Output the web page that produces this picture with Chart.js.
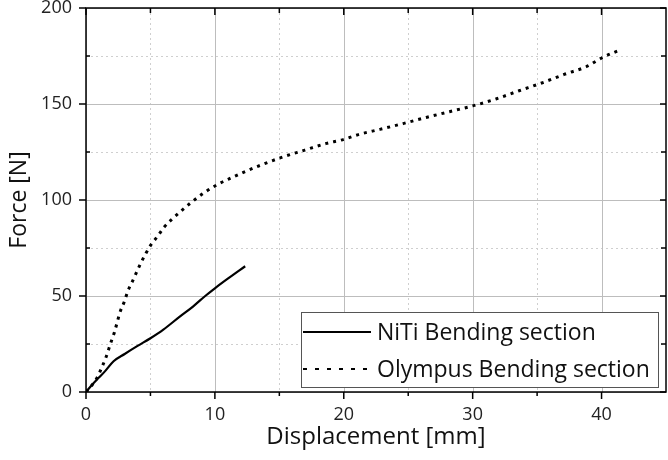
<!DOCTYPE html>
<html>
<head>
<meta charset="utf-8">
<script src="https://cdn.jsdelivr.net/npm/chart.js@4.4.1/dist/chart.umd.min.js"></script>
<style>
  html, body { margin: 0; padding: 0; background: #fff; }
  #wrap { width: 668px; height: 460px; }
</style>
</head>
<body>
<div id="wrap"><canvas id="chart" width="668" height="460"></canvas></div>
<script>
// Force vs displacement
const nitiX = [0, 0.47, 1.0, 1.5, 2.14, 3.0, 4.0, 5.0, 6.0, 7.3, 8.3, 9.25, 10.0, 11.0, 12.35];
const nitiY = [0, 3.8, 7.5, 11, 16, 19.8, 24, 28, 32.5, 39.4, 44.5, 50, 54, 59, 65.5];

const olyX = [0, 0.4, 0.85, 1.24, 1.58, 1.89, 2.2, 2.66, 2.97, 3.26, 3.6, 3.9, 4.24, 4.63, 5.01,
  5.53, 6.07, 7.08, 8.14, 9.17, 10.23, 11.29, 12.45, 13.5, 15.17, 16.98, 18.66, 19.8, 21.2,
  22.8, 24.6, 26.4, 28.2, 30.0, 31.8, 33.6, 35.3, 37.1, 38.8, 40.1, 41.3];
const olyY = [0, 3, 7.3, 13, 18.6, 25, 31, 42, 47, 52.8, 57.6, 62, 67, 72, 76.4,
  80.9, 85.9, 92.5, 98.6, 103.8, 108.2, 111.6, 115.1, 118, 122.2, 126, 129.5, 131.2, 134.2,
  136.8, 139.8, 143, 146, 149, 152.6, 156.9, 160.8, 165.4, 169.4, 174.3, 177.8];

const xTicks = [0, 10, 20, 30, 40];
const xMinor = [5, 15, 25, 35];
const yTicks = [0, 50, 100, 150, 200];
const yMinor = [25, 75, 125, 175];

const FONT = '"Open Sans", "DejaVu Sans", sans-serif';

const toPts = (xs, ys) => xs.map((x, i) => ({ x, y: ys[i] }));

// Origin-style frame: grid, box, tick marks, inset legend
const framePlugin = {
  id: 'frame',
  beforeDatasetsDraw(chart) {
    const { ctx, chartArea: a, scales: { x, y } } = chart;
    ctx.save();
    ctx.lineWidth = 1;
    // minor grid, dotted
    ctx.strokeStyle = '#cfcfcf';
    ctx.setLineDash([2, 3]);
    xMinor.forEach(v => {
      const px = Math.round(x.getPixelForValue(v)) + 0.5;
      ctx.beginPath(); ctx.moveTo(px, a.top); ctx.lineTo(px, a.bottom); ctx.stroke();
    });
    yMinor.forEach(v => {
      const py = Math.round(y.getPixelForValue(v)) + 0.5;
      ctx.beginPath(); ctx.moveTo(a.left, py); ctx.lineTo(a.right, py); ctx.stroke();
    });
    // major grid, solid
    ctx.setLineDash([]);
    ctx.strokeStyle = '#bdbdbd';
    xTicks.forEach(v => {
      const px = Math.round(x.getPixelForValue(v)) + 0.5;
      ctx.beginPath(); ctx.moveTo(px, a.top); ctx.lineTo(px, a.bottom); ctx.stroke();
    });
    yTicks.forEach(v => {
      const py = Math.round(y.getPixelForValue(v)) + 0.5;
      ctx.beginPath(); ctx.moveTo(a.left, py); ctx.lineTo(a.right, py); ctx.stroke();
    });
    ctx.restore();
  },
  afterDraw(chart) {
    const { ctx, chartArea: a, scales: { x, y } } = chart;
    ctx.save();
    ctx.strokeStyle = '#000';
    ctx.lineWidth = 1.5;
    ctx.strokeRect(a.left, a.top, a.right - a.left, a.bottom - a.top);

    const tick = (x1, y1, x2, y2) => { ctx.beginPath(); ctx.moveTo(x1, y1); ctx.lineTo(x2, y2); ctx.stroke(); };
    xTicks.forEach(v => {
      const px = x.getPixelForValue(v);
      tick(px, a.bottom, px, a.bottom + 7);
      tick(px, a.top, px, a.top + 7);
    });
    xMinor.forEach(v => {
      const px = x.getPixelForValue(v);
      tick(px, a.bottom, px, a.bottom + 4);
      tick(px, a.top, px, a.top + 5);
    });
    yTicks.forEach(v => {
      const py = y.getPixelForValue(v);
      tick(a.left - 7, py, a.left, py);
      tick(a.right - 6, py, a.right, py);
    });
    yMinor.forEach(v => {
      const py = y.getPixelForValue(v);
      tick(a.left, py, a.left + 4, py);
      tick(a.right - 5, py, a.right, py);
    });

    // legend box
    const lx = 301, ly = 312, lw = 357, lh = 75;
    ctx.fillStyle = '#fff';
    ctx.fillRect(lx, ly, lw, lh);
    ctx.strokeStyle = '#555';
    ctx.lineWidth = 1;
    ctx.strokeRect(lx + 0.5, ly + 0.5, lw, lh);
    const rows = [ly + 20, ly + 57];
    chart.data.datasets.forEach((ds, i) => {
      const cy = rows[i];
      ctx.strokeStyle = '#000';
      ctx.lineWidth = 2;
      ctx.setLineDash(i === 0 ? [] : [4, 8]);
      ctx.beginPath(); ctx.moveTo(lx + 2, cy); ctx.lineTo(lx + 70, cy); ctx.stroke();
      ctx.setLineDash([]);
      ctx.fillStyle = '#111';
      ctx.font = '23px ' + FONT;
      ctx.textBaseline = 'middle';
      ctx.fillText(ds.label, lx + 76, cy + 1);
    });
    ctx.restore();
  }
};

new Chart(document.getElementById('chart'), {
  type: 'line',
  data: {
    datasets: [
      {
        label: 'NiTi Bending section',
        data: toPts(nitiX, nitiY),
        borderColor: '#000',
        borderWidth: 2.2,
        pointRadius: 0,
        cubicInterpolationMode: 'monotone'
      },
      {
        label: 'Olympus Bending section',
        data: toPts(olyX, olyY),
        borderColor: '#000',
        borderWidth: 3,
        borderDash: [3, 5],
        pointRadius: 0,
        cubicInterpolationMode: 'monotone'
      }
    ]
  },
  options: {
    responsive: false,
    animation: false,
    layout: { padding: { top: 8, right: 2, left: 0, bottom: 0 } },
    plugins: { legend: { display: false }, tooltip: { enabled: false } },
    scales: {
      x: {
        type: 'linear',
        min: 0, max: 45,
        afterFit: s => { s.height = 68; s.paddingLeft = 0; s.paddingRight = 0; },
        afterBuildTicks: s => { s.ticks = xTicks.map(v => ({ value: v })); },
        grid: { display: false, drawTicks: false },
        border: { display: false },
        ticks: { color: '#222', padding: 12, maxRotation: 0, font: { family: FONT, size: 18 } },
        title: { display: true, text: 'Displacement [mm]', color: '#111',
          padding: { top: 0, bottom: 8 }, font: { family: FONT, size: 24 } }
      },
      y: {
        type: 'linear',
        min: 0, max: 200,
        afterFit: s => { s.width = 86; s.paddingTop = 0; s.paddingBottom = 0; },
        afterBuildTicks: s => { s.ticks = yTicks.map(v => ({ value: v })); },
        grid: { display: false, drawTicks: false },
        border: { display: false },
        ticks: { color: '#222', padding: 14, font: { family: FONT, size: 18 } },
        title: { display: true, text: 'Force [N]', color: '#111',
          padding: { top: 6, bottom: 4 }, font: { family: FONT, size: 23 } }
      }
    }
  },
  plugins: [framePlugin]
});
</script>
</body>
</html>
